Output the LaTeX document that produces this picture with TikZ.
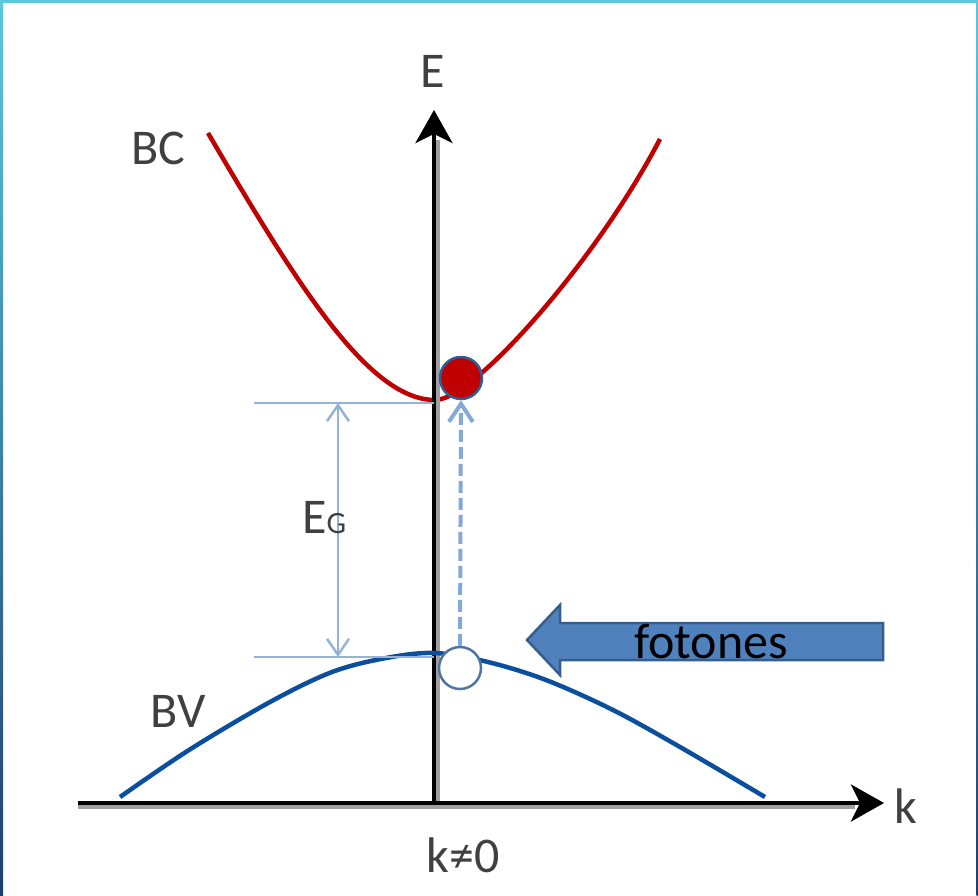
\documentclass[tikz,border=0pt]{standalone}
\usepackage{fontspec}
\setmainfont{Carlito}
\usetikzlibrary{arrows.meta}
\definecolor{bcred}{HTML}{C00000}
\definecolor{bvblue}{HTML}{0A4F9E}
\definecolor{lblue}{HTML}{95B3D7}
\definecolor{dashblue}{HTML}{86A8D6}
\definecolor{arrfill}{HTML}{4F81BD}
\definecolor{arrline}{HTML}{385D8A}
\definecolor{dotline}{HTML}{2F5D96}
\definecolor{labgray}{HTML}{404040}
\definecolor{frametop}{HTML}{5BC8DC}
\definecolor{framebot}{HTML}{1F3F6E}
\tikzset{
  lab/.style={text=labgray, inner sep=0pt, anchor=base, font=\fontsize{50}{60}\selectfont},
  axisline/.style={line width=4, black, -{Stealth[length=33,width=37,inset=9]}},
  axisshadow/.style={line width=4, gray!75},
  band/.style={line width=4.5},
  helper/.style={line width=2.5, lblue},
  dotstyle/.style={circle, minimum size=42, inner sep=0pt, line width=2.5, draw=dotline},
}
\begin{document}
\begin{tikzpicture}[x=1pt,y=-1pt]
\useasboundingbox (0,0) rectangle (978,895);
% frame
\shade[top color=frametop, bottom color=framebot] (0,0) rectangle (3,895);
\shade[top color=frametop, bottom color=framebot] (976.5,0) rectangle (978,895);
\fill[frametop] (0,0) rectangle (978,2.5);

% coordinates
\coordinate (Ebot) at (434,803);
\coordinate (Etop) at (434,110);
\coordinate (kleft) at (78,803);
\coordinate (kright) at (884,803);
\coordinate (gtopL) at (254,403);
\coordinate (gtopR) at (434,403);
\coordinate (gbotL) at (254,657);
\coordinate (gbotR) at (434,657);
\coordinate (gA) at (338,403);
\coordinate (gB) at (338,657);

% conduction band
\draw[band, bcred] (208,133) .. controls (300,290) and (370,400) .. (435,400)
  .. controls (475,400) and (600,255) .. (660,139);

% axes shadows and axes
\draw[axisshadow] ([shift={(3.5,0)}]Ebot) -- ([shift={(3.5,0)}]434,140);
\draw[axisshadow] ([shift={(0,3.5)}]kleft) -- ([shift={(0,3.5)}]855,803);
\draw[axisline] (Ebot) -- (Etop);
\draw[axisline] (kleft) -- (kright);

% valence band
\draw[band, bvblue, line join=round] plot[smooth, tension=0.55] coordinates {
 (120,797) (189,750) (270,702) (332,672) (386,658) (435,653)
 (488,662) (546,680) (613,710) (680,747) (765,797)};

% gap helpers
\draw[helper] (gtopL) -- (gtopR);
\draw[helper] (gbotL) -- (gbotR);
\draw[helper, {Straight Barb[length=16,width=22]}-{Straight Barb[length=16,width=22]}] (gA) -- (gB);

% electron and hole
\node[dotstyle, fill=bcred] (electron) at (461,378) {};
\node[dotstyle, fill=white, draw=dotline!85] (hole) at (460,668) {};
\draw[line width=4, dashblue, dash pattern=on 12 off 5, -{Straight Barb[length=18,width=24]}] (hole.north) -- (electron.south);

% photon arrow
\draw[fill=arrfill, draw=arrline, line width=2.5, line join=miter]
  (883,623) -- (560,623) -- (560,605) -- (527,640) -- (560,675) -- (560,660) -- (883,660) -- cycle;
\node[lab, text=black] (fot) at (711,658) {fotones};

% labels
\node[lab] (Elab) at (433,87) {E};
\node[lab] (klab) at (906,823) {k};
\node[lab] (BClab) at (158,164) {BC};
\node[lab] (BVlab) at (178,727) {BV};
\node[lab, anchor=base west] (Eg) at (302,533) {E{\fontsize{31}{36}\selectfont G}};
\node[lab] (kne) at (463,872) {k≠0};
\end{tikzpicture}
\end{document}
